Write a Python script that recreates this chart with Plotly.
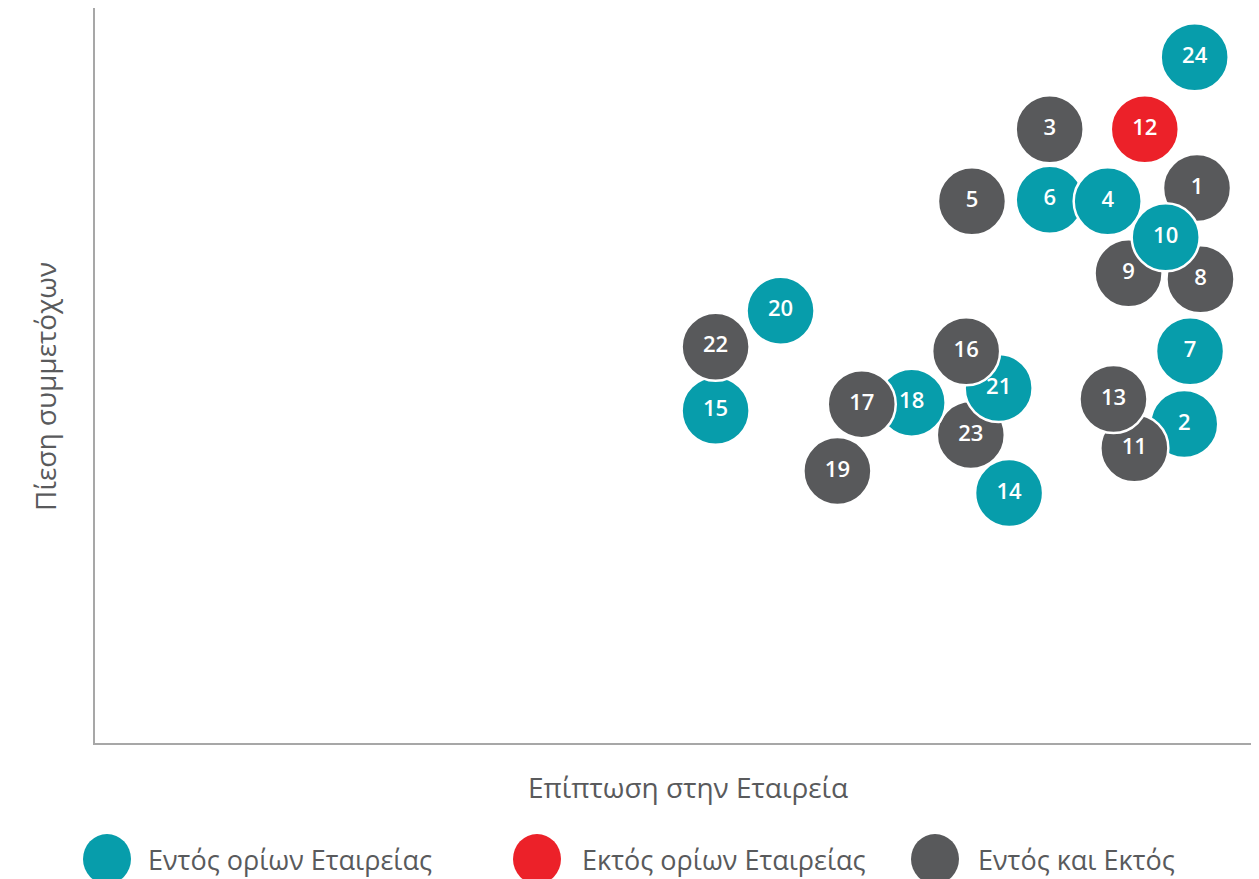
import plotly.graph_objects as go

# Data (drawing order matters: later points are drawn on top)
labels = ["24", "3", "12", "5", "6", "4", "1", "9", "8", "10", "7",
          "20", "15", "22", "23", "21", "16", "18", "17", "19", "14",
          "2", "11", "13"]
impact = [94.8, 82.3, 90.5, 75.6, 82.3, 87.3, 95.0, 89.1, 95.3, 92.3, 94.4,
          59.1, 53.5, 53.5, 75.5, 77.9, 75.1, 70.4, 66.1, 64.0, 78.8,
          93.9, 89.6, 87.8]
pressure = [93.3, 83.5, 83.5, 73.7, 73.9, 73.7, 75.5, 63.9, 63.1, 68.8, 53.3,
            58.8, 45.2, 53.9, 41.9, 48.3, 53.3, 46.3, 46.1, 37.0, 34.0,
            43.4, 40.1, 46.8]
category = ["in", "both", "out", "both", "in", "in", "both", "both", "both", "in", "in",
            "in", "in", "both", "both", "in", "both", "in", "both", "both", "in",
            "in", "both", "both"]

legend_keys = ["in", "out", "both"]
legend_names = ["Εντός ορίων Εταιρείας", "Εκτός ορίων Εταιρείας", "Εντός και Εκτός"]
colors = {"in": "#079dab", "out": "#ec2129", "both": "#58595b"}

x_title = "Επίπτωση στην Εταιρεία"
y_title = "Πίεση συμμετόχων"

FONT = "Open Sans"
TEXT_COLOR = "#595a5c"

fig = go.Figure()
fig.add_trace(go.Scatter(
    x=impact, y=pressure, mode="markers+text",
    text=labels, textposition="middle center",
    textfont=dict(family=FONT, size=22, color="white", weight=600),
    marker=dict(size=68, color=[colors[c] for c in category],
                line=dict(color="white", width=2.5), opacity=1),
    cliponaxis=False, showlegend=False, hoverinfo="skip",
))

# page offset (body margin) of 8px
OFF = 8
W, H = 1259 - OFF, 879 - OFF
ml, mr, mt, mb = 95 - OFF, 4, 8 - OFF, 136
pw, ph = W - ml - mr, H - mt - mb

def px_to_paper(sx, sy):
    fx, fy = sx - OFF, sy - OFF
    return (fx - ml) / pw, (H - mb - fy) / ph

shapes = []
annotations = []
leg_px = [107, 537, 935]
leg_tx = [148, 582, 978]
leg_py = 859
for key, name, cx, tx0 in zip(legend_keys, legend_names, leg_px, leg_tx):
    xp, yp = px_to_paper(cx, leg_py)
    shapes.append(dict(type="circle", xref="paper", yref="paper",
                       xsizemode="pixel", ysizemode="pixel",
                       xanchor=xp, yanchor=yp, x0=-24, x1=24, y0=-25, y1=25,
                       fillcolor=colors[key], line=dict(width=0)))
    tx, ty = px_to_paper(tx0 - 2, leg_py + 1)
    annotations.append(dict(xref="paper", yref="paper", x=tx, y=ty,
                            xanchor="left", yanchor="middle", showarrow=False,
                            text=name, font=dict(family=FONT, size=27, color=TEXT_COLOR)))

xt, yt = px_to_paper(688, 787)
annotations.append(dict(xref="paper", yref="paper", x=xt, y=yt, xanchor="center",
                        yanchor="middle", showarrow=False, text=x_title,
                        font=dict(family=FONT, size=28, color=TEXT_COLOR)))
xt, yt = px_to_paper(45, 387)
annotations.append(dict(xref="paper", yref="paper", x=xt, y=yt, xanchor="center",
                        yanchor="middle", showarrow=False, text=y_title, textangle=-90,
                        font=dict(family=FONT, size=28, color=TEXT_COLOR)))

axis_common = dict(showline=True, linecolor="#a7a7a7", linewidth=2, showgrid=False,
                   zeroline=False, showticklabels=False, ticks="", fixedrange=True)
fig.update_layout(
    width=W, height=H,
    margin=dict(l=ml, r=mr, t=mt, b=mb),
    paper_bgcolor="white", plot_bgcolor="white",
    xaxis=dict(range=[0, 100], **axis_common),
    yaxis=dict(range=[0, 100], **axis_common),
    shapes=shapes, annotations=annotations,
)
fig.write_html("out.html")
